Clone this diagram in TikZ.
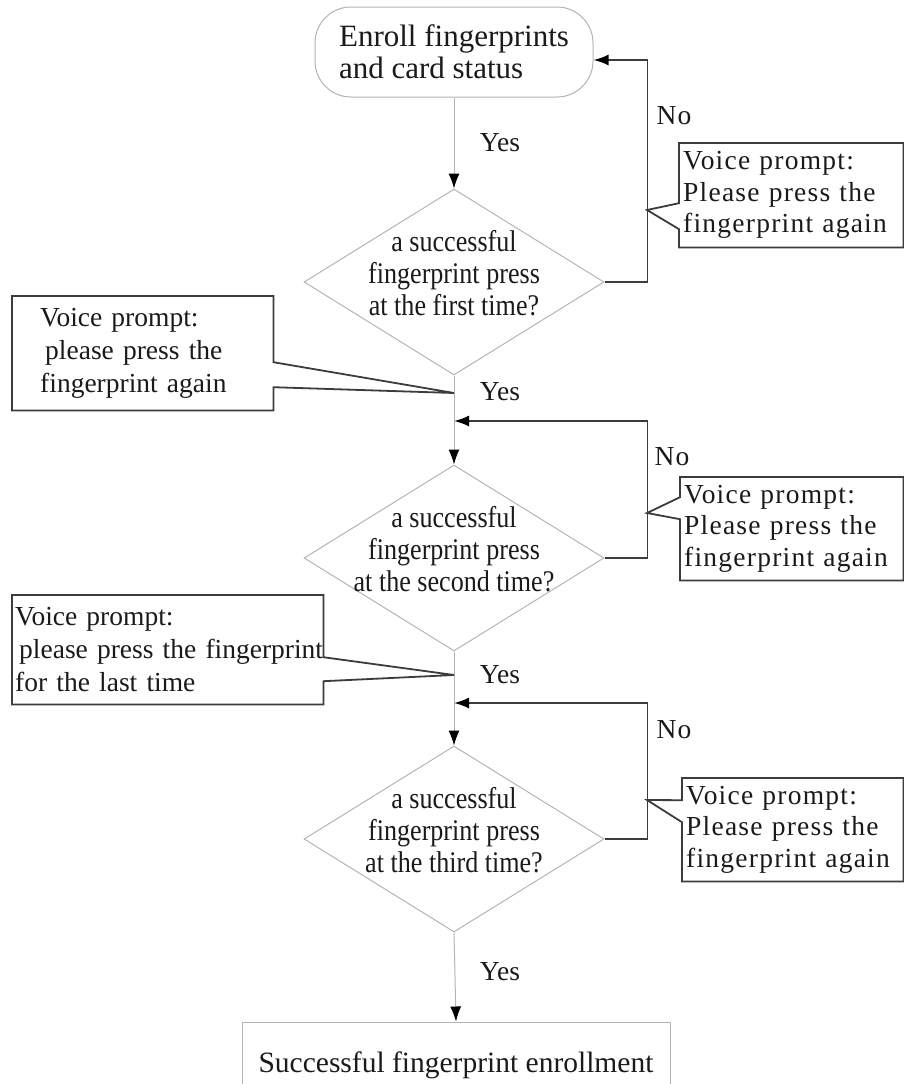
\documentclass[tikz,border=0pt]{standalone}
\usepackage{fontspec}
\setmainfont{Liberation Serif}
\newfontfamily\widefont[LetterSpace=4.5]{Liberation Serif}
\newfontfamily\narrowfont[FakeStretch=0.87]{Liberation Serif}
\usetikzlibrary{shapes.geometric,arrows.meta,calc}

\definecolor{lightline}{HTML}{B4B4B4}
\definecolor{darkline}{HTML}{3C3C3C}
\definecolor{ink}{HTML}{1A1A1A}

\tikzset{
  flow/.style={draw=lightline, line width=1pt},
  loop/.style={draw=darkline, line width=1.8pt},
  arr/.style={-{Latex[length=15pt,width=11pt,color=black]}},
  decision/.style={diamond, draw=lightline, line width=1pt, minimum width=300pt, minimum height=186pt, inner sep=0pt},
  question/.style={text=ink, align=center, inner sep=0pt, font=\narrowfont\fontsize{30}{32}\selectfont},
  lnote/.style={anchor=north west, text=ink, align=left, inner ysep=0pt, font=\fontsize{27.5}{33}\selectfont},
  rnote/.style={anchor=north west, text=ink, align=left, inner xsep=4pt, inner ysep=0pt, font=\widefont\fontsize{27.5}{31.5}\selectfont},
  lbl/.style={text=ink, inner sep=0pt, font=\fontsize{27.5}{30}\selectfont},
}

\begin{document}
\begin{tikzpicture}[x=1pt, y=-1pt]
  \useasboundingbox (0,0) rectangle (904,1084);

  % start and end
  \node (enroll) at (454,52) [draw=lightline, line width=1pt, rounded corners=36pt, minimum width=278pt, minimum height=90pt, align=left, text=ink, font=\fontsize{31}{32}\selectfont] {Enroll fingerprints\\and card status};
  \node (done) at (456,1065) [draw=lightline, line width=1pt, minimum width=428pt, minimum height=86pt, text=ink, font=\fontsize{29.5}{32}\selectfont] {Successful fingerprint enrollment};

  % the three checks
  \node (q1) at (454,282) [decision] {};
  \node (q2) at (454,558) [decision] {};
  \node (q3) at (454,839) [decision] {};
  \node (q1t) at (454,273) [question] {a successful\\fingerprint press\\at the first time?};
  \node (q2t) at (454,549) [question] {a successful\\fingerprint press\\at the second time?};
  \node (q3t) at (454,830) [question] {a successful\\fingerprint press\\at the third time?};

  \coordinate (j1) at (454,421);
  \coordinate (j2) at (454,703);

  \draw [flow, arr] (enroll.south) -- (q1.north);
  \draw [flow] (q1.south) -- (j1);
  \draw [flow, arr] (j1) -- (q2.north);
  \draw [flow] (q2.south) -- (j2);
  \draw [flow, arr] (j2) -- (q3.north);
  \draw [flow, arr] (q3.south) -- (done.north);

  % retries
  \draw [loop, arr] (q1.east) -- ++(43,0) |- ([yshift=-8pt]enroll.east);
  \draw [loop, arr] (q2.east) -- ++(43,0) |- (j1);
  \draw [loop, arr] (q3.east) -- ++(43,0) |- (j2);

  \node (yes1) at (500,143) [lbl] {Yes};
  \node (yes2) at (500,392) [lbl] {Yes};
  \node (yes3) at (500,675) [lbl] {Yes};
  \node (yes4) at (500,972) [lbl] {Yes};
  \node (no1) at (674,116) [lbl, font=\widefont\fontsize{27.5}{30}\selectfont] {No};
  \node (no2) at (672,457) [lbl, font=\widefont\fontsize{27.5}{30}\selectfont] {No};
  \node (no3) at (674,730) [lbl, font=\widefont\fontsize{27.5}{30}\selectfont] {No};

  % voice prompts on the right
  \coordinate (tip1) at (647,210);
  \coordinate (tip2) at (647,513);
  \coordinate (tip3) at (647,800);
  \node (rb1) at (679,143) [rnote, text width=216pt, minimum height=104pt] {Voice prompt:\\Please press the\\fingerprint again};
  \node (rb2) at (680,477) [rnote, text width=215pt, minimum height=103pt] {Voice prompt:\\Please press the\\fingerprint again};
  \node (rb3) at (682,778) [rnote, text width=213pt, minimum height=103pt] {Voice prompt:\\Please press the\\fingerprint again};
  \draw [loop] (rb1.north west) -- (rb1.north east) -- (rb1.south east) -- (rb1.south west) -- ([yshift=-34pt]rb1.west) -- (tip1) -- ([yshift=-8pt]rb1.west) -- cycle;
  \draw [loop] (rb2.north west) -- (rb2.north east) -- (rb2.south east) -- (rb2.south west) -- ([yshift=9.5pt]rb2.west) -- (tip2) -- ([yshift=31.5pt]rb2.west) -- cycle;
  \draw [loop] (rb3.north west) -- (rb3.north east) -- (rb3.south east) -- (rb3.south west) -- ([yshift=7.5pt]rb3.west) -- (tip3) -- ([yshift=29.5pt]rb3.west) -- cycle;

  % voice prompts on the left
  \coordinate (tip4) at (454,393);
  \coordinate (tip5) at (454,675);
  \node (lb1) at (12,296) [lnote, inner xsep=28pt, text width=205pt, minimum height=114pt] {Voice prompt:\\\hspace*{5pt}please press the\\fingerprint again};
  \node (lb2) at (12,595) [lnote, inner xsep=3pt, text width=305pt, minimum height=109pt] {Voice prompt:\\\mbox{\hspace*{4pt}please press the fingerprint}\\for the last time};
  \draw [loop] (lb1.north west) -- (lb1.north east) -- ([yshift=-9pt]lb1.east) -- (tip4) -- ([yshift=-34pt]lb1.east) -- (lb1.south east) -- (lb1.south west) -- cycle;
  \draw [loop] (lb2.north west) -- (lb2.north east) -- ([yshift=-7.5pt]lb2.east) -- (tip5) -- ([yshift=-31.5pt]lb2.east) -- (lb2.south east) -- (lb2.south west) -- cycle;
\end{tikzpicture}
\end{document}
